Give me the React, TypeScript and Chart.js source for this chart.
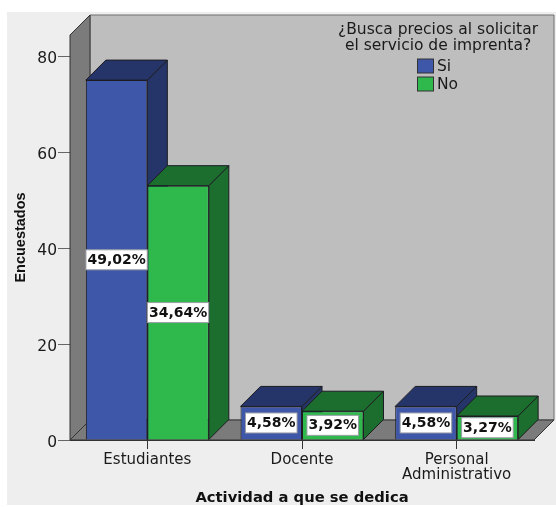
import React, { useEffect, useRef } from "react";
import { Chart, registerables } from "chart.js";

Chart.register(...registerables);

const categories = ["Estudiantes", "Docente", ["Personal", "Administrativo"]];
const siValues = [75, 7, 7];
const noValues = [53, 6, 5];
const siPercents = ["49,02%", "4,58%", "4,58%"];
const noPercents = ["34,64%", "3,92%", "3,27%"];
const legendTitle = ["¿Busca precios al solicitar", "el servicio de imprenta?"];
const yTicks = [0, 20, 40, 60, 80];

const DEPTH = 20;
const BLUE = "#3e57a8";
const BLUE_DARK = "#253569";
const GREEN = "#2fb84c";
const GREEN_DARK = "#1c6e2e";
const EDGE = "#1c1c22";
const SANS = "'DejaVu Sans', sans-serif";

const darkSides = [BLUE_DARK, GREEN_DARK];
const percentSets = [siPercents, noPercents];

function poly(ctx: CanvasRenderingContext2D, pts: number[][], fill: string, stroke = EDGE) {
  ctx.beginPath();
  pts.forEach(([x, y], i) => (i ? ctx.lineTo(x, y) : ctx.moveTo(x, y)));
  ctx.closePath();
  ctx.fillStyle = fill;
  ctx.fill();
  ctx.strokeStyle = stroke;
  ctx.lineWidth = 1;
  ctx.stroke();
}

// Page panel behind everything
const panelPlugin = {
  id: "panel",
  beforeDraw(chart: any) {
    const { ctx, width, height } = chart;
    ctx.save();
    ctx.fillStyle = "#ffffff";
    ctx.fillRect(0, 0, width, height);
    ctx.fillStyle = "#eeeeee";
    ctx.fillRect(7, 12, width - 7, height - 12 - 2);
    ctx.restore();
  },
};

// Box walls, floor and the oblique faces of every bar
const depthPlugin = {
  id: "depth",
  beforeDatasetsDraw(chart: any) {
    const { ctx, chartArea: a } = chart;
    const { left: l, right: r, top: t, bottom: b } = a;
    ctx.save();
    poly(ctx, [[l + DEPTH, t - DEPTH], [r + DEPTH, t - DEPTH], [r + DEPTH, b - DEPTH], [l + DEPTH, b - DEPTH]], "#bebebe", "#6e6e6e");
    poly(ctx, [[l, t], [l + DEPTH, t - DEPTH], [l + DEPTH, b - DEPTH], [l, b]], "#7b7b7b", "#333333");
    poly(ctx, [[l, b], [l + DEPTH, b - DEPTH], [r + DEPTH, b - DEPTH], [r, b]], "#7b7b7b", "#333333");
    chart.data.labels.forEach((_: unknown, c: number) => {
      chart.data.datasets.forEach((_d: unknown, s: number) => {
        const bar = chart.getDatasetMeta(s).data[c];
        const x0 = bar.x - bar.width / 2;
        const x1 = bar.x + bar.width / 2;
        const y0 = bar.y;
        const y1 = bar.base;
        poly(ctx, [[x1, y1], [x1 + DEPTH, y1 - DEPTH], [x1 + DEPTH, y0 - DEPTH], [x1, y0]], darkSides[s]);
        poly(ctx, [[x0, y0], [x0 + DEPTH, y0 - DEPTH], [x1 + DEPTH, y0 - DEPTH], [x1, y0]], darkSides[s]);
      });
    });
    ctx.restore();
  },
  afterDatasetsDraw(chart: any) {
    const { ctx } = chart;
    ctx.save();
    ctx.font = `bold 14px ${SANS}`;
    ctx.textAlign = "center";
    ctx.textBaseline = "middle";
    percentSets.forEach((labels, s) => {
      const bars = chart.getDatasetMeta(s).data;
      labels.forEach((text, c) => {
        const bar = bars[c];
        const cy = (bar.y + bar.base) / 2;
        const w = ctx.measureText(text).width + 3;
        const h = 20;
        ctx.fillStyle = "#ffffff";
        ctx.fillRect(bar.x - w / 2, cy - h / 2, w, h);
        ctx.strokeStyle = "#9a9da6";
        ctx.lineWidth = 1;
        ctx.strokeRect(bar.x - w / 2, cy - h / 2, w, h);
        ctx.fillStyle = "#111111";
        ctx.fillText(text, bar.x, cy + 0.5);
      });
    });
    ctx.restore();
  },
};

// Legend block in the upper right of the back wall
const legendPlugin = {
  id: "legendBlock",
  afterDatasetsDraw(chart: any) {
    const { ctx } = chart;
    ctx.save();
    ctx.font = `15.5px ${SANS}`;
    ctx.fillStyle = "#1a1a1a";
    ctx.textBaseline = "middle";
    ctx.textAlign = "center";
    legendTitle.forEach((line, i) => ctx.fillText(line, 438, 30 + i * 16));
    ctx.textAlign = "left";
    chart.data.datasets.forEach((d: any, i: number) => {
      const y = 59 + i * 18;
      ctx.fillStyle = d.backgroundColor;
      ctx.fillRect(417.5, y, 16, 14);
      ctx.strokeStyle = "#333333";
      ctx.lineWidth = 1;
      ctx.strokeRect(417.5, y, 16, 14);
      ctx.fillStyle = "#1a1a1a";
      ctx.fillText(d.label, 437, y + 8);
    });
    ctx.restore();
  },
};

export default function App() {
  const ref = useRef<HTMLCanvasElement>(null);
  useEffect(() => {
    const chart = new Chart(ref.current!, {
      type: "bar",
      data: {
        labels: categories,
        datasets: [
          { label: "Si", data: siValues, backgroundColor: BLUE, borderColor: EDGE, borderWidth: 1 },
          { label: "No", data: noValues, backgroundColor: GREEN, borderColor: EDGE, borderWidth: 1 },
        ],
      },
      plugins: [panelPlugin, depthPlugin, legendPlugin],
      options: {
        animation: false,
        responsive: false,
        layout: { padding: { top: 35, right: 22, left: 0, bottom: 0 } },
        plugins: { legend: { display: false }, tooltip: { enabled: false } },
        datasets: { bar: { categoryPercentage: 0.795, barPercentage: 1 } },
        scales: {
          x: {
            afterFit: (s: any) => { s.height = 67; },
            grid: { offset: false, drawOnChartArea: false, drawTicks: true, tickLength: 9, color: "#333333" },
            border: { color: "#333333" },
            ticks: { color: "#1a1a1a", font: { family: SANS, size: 15, lineHeight: 1.02 }, padding: 3, maxRotation: 0 },
            title: {
              display: true,
              text: "Actividad a que se dedica",
              color: "#111111",
              font: { family: SANS, size: 14.75, weight: "bold" },
              padding: { top: -2.5, bottom: 0 },
            },
          },
          y: {
            min: 0,
            max: 84.4,
            afterFit: (s: any) => { s.width = 70; },
            afterBuildTicks: (s: any) => { s.ticks = yTicks.map((value) => ({ value })); },
            grid: { drawOnChartArea: false, drawTicks: true, tickLength: 12, color: "#666666" },
            border: { color: "#333333" },
            ticks: { color: "#1a1a1a", font: { family: SANS, size: 15.5 }, padding: 1, labelOffset: 2.5 },
            title: {
              display: true,
              text: "Encuestados",
              color: "#111111",
              font: { family: "'Liberation Sans', sans-serif", size: 14.5, weight: "bold" },
              padding: { top: 12, bottom: 0 },
            },
          },
        },
      },
    } as any);
    return () => chart.destroy();
  }, []);
  return (
    <div style={{ position: "absolute", left: 0, top: 0, width: 556, height: 507 }}>
      <canvas ref={ref} width={556} height={507} style={{ display: "block" }} />
    </div>
  );
}
